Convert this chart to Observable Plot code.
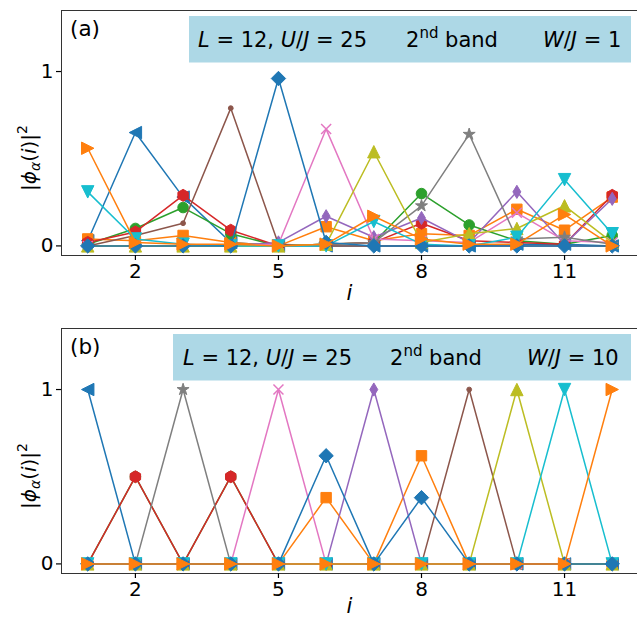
<!DOCTYPE html>
<html>
<head>
<meta charset="utf-8">
<script src="https://cdn.jsdelivr.net/npm/d3@7"></script>
<script src="https://cdn.jsdelivr.net/npm/@observablehq/plot@0.6"></script>
<style>
  body { margin: 0; background: #fff; }
  #chart { width: 637px; }
  #chart svg { display: block; }
</style>
</head>
<body>
<div id="chart"></div>
<script>
// ---------------- data ----------------
const sites = [1, 2, 3, 4, 5, 6, 7, 8, 9, 10, 11, 12];
const xTicks = [2, 5, 8, 11];
const yTicks = [0, 1];
const panelLabels = ["(a)", "(b)"];
const systemSize = 12;
const interaction = 25;
const bandLabel = ["2", "nd", " band"];
const disorder = [1, 10];

// |phi_alpha(i)|^2 for the 12 states of the 2nd band, W/J = 1
const densityW1 = [
  [0.03, 0.65, 0.28, 0.02, 0.00, 0.00, 0.00, 0.00, 0.00, 0.01, 0.01, 0.00],
  [0.04, 0.03, 0.06, 0.02, 0.00, 0.11, 0.03, 0.07, 0.06, 0.21, 0.09, 0.28],
  [0.01, 0.10, 0.22, 0.07, 0.00, 0.01, 0.02, 0.30, 0.12, 0.03, 0.01, 0.06],
  [0.02, 0.08, 0.29, 0.09, 0.00, 0.01, 0.02, 0.13, 0.03, 0.02, 0.01, 0.29],
  [0.00, 0.00, 0.00, 0.00, 0.02, 0.17, 0.05, 0.16, 0.02, 0.31, 0.01, 0.27],
  [0.00, 0.06, 0.13, 0.79, 0.01, 0.00, 0.00, 0.00, 0.00, 0.00, 0.00, 0.00],
  [0.00, 0.00, 0.00, 0.00, 0.01, 0.67, 0.04, 0.03, 0.02, 0.19, 0.03, 0.02],
  [0.00, 0.00, 0.00, 0.00, 0.00, 0.01, 0.02, 0.23, 0.64, 0.04, 0.05, 0.01],
  [0.00, 0.00, 0.00, 0.00, 0.00, 0.01, 0.54, 0.02, 0.07, 0.10, 0.23, 0.02],
  [0.31, 0.04, 0.01, 0.00, 0.00, 0.00, 0.14, 0.01, 0.00, 0.05, 0.38, 0.07],
  [0.00, 0.00, 0.00, 0.00, 0.96, 0.02, 0.00, 0.00, 0.00, 0.00, 0.00, 0.00],
  [0.56, 0.02, 0.01, 0.01, 0.00, 0.01, 0.17, 0.04, 0.01, 0.01, 0.18, 0.00]
];

// |phi_alpha(i)|^2 for the 12 states of the 2nd band, W/J = 10
const densityW10 = [
  [1.00, 0.00, 0.00, 0.00, 0.00, 0.00, 0.00, 0.00, 0.00, 0.00, 0.00, 0.00],
  [0.00, 0.00, 0.00, 0.00, 0.00, 0.38, 0.00, 0.62, 0.00, 0.00, 0.00, 0.00],
  [0.00, 0.50, 0.00, 0.50, 0.00, 0.00, 0.00, 0.00, 0.00, 0.00, 0.00, 0.00],
  [0.00, 0.50, 0.00, 0.50, 0.00, 0.00, 0.00, 0.00, 0.00, 0.00, 0.00, 0.00],
  [0.00, 0.00, 0.00, 0.00, 0.00, 0.00, 1.00, 0.00, 0.00, 0.00, 0.00, 0.00],
  [0.00, 0.00, 0.00, 0.00, 0.00, 0.00, 0.00, 0.00, 1.00, 0.00, 0.00, 0.00],
  [0.00, 0.00, 0.00, 0.00, 1.00, 0.00, 0.00, 0.00, 0.00, 0.00, 0.00, 0.00],
  [0.00, 0.00, 1.00, 0.00, 0.00, 0.00, 0.00, 0.00, 0.00, 0.00, 0.00, 0.00],
  [0.00, 0.00, 0.00, 0.00, 0.00, 0.00, 0.00, 0.00, 0.00, 1.00, 0.00, 0.00],
  [0.00, 0.00, 0.00, 0.00, 0.00, 0.00, 0.00, 0.00, 0.00, 0.00, 1.00, 0.00],
  [0.00, 0.00, 0.00, 0.00, 0.00, 0.62, 0.00, 0.38, 0.00, 0.00, 0.00, 0.00],
  [0.00, 0.00, 0.00, 0.00, 0.00, 0.00, 0.00, 0.00, 0.00, 0.00, 0.00, 1.00]
];

// ---------------- styles ----------------
const colors = ["#1f77b4", "#ff7f0e", "#2ca02c", "#d62728", "#9467bd", "#8c564b",
                "#e377c2", "#7f7f7f", "#bcbd22", "#17becf", "#1f77b4", "#ff7f0e"];
const markers = ["triLeft", "square", "circle", "hexagon", "thinDiamond", "point",
                 "x", "star", "triUp", "triDown", "diamond", "triRight"];
const markerSize = {triLeft: 6.2, triRight: 6.2, triUp: 6.2, triDown: 6.2, square: 5.2, circle: 5.3,
                    hexagon: 6, thinDiamond: 6.6, point: 2.4, x: 5, star: 6.3, diamond: 7.2};

function poly(pts) {
  return {draw(ctx, size) {
    const R = Math.sqrt(size / Math.PI);
    ctx.moveTo(pts[0][0] * R, pts[0][1] * R);
    for (let k = 1; k < pts.length; ++k) ctx.lineTo(pts[k][0] * R, pts[k][1] * R);
    ctx.closePath();
  }};
}
const symbols = {
  triLeft: poly([[-1, 0], [1, -1], [1, 1]]),
  triRight: poly([[1, 0], [-1, -1], [-1, 1]]),
  triUp: poly([[0, -1], [-1, 1], [1, 1]]),
  triDown: poly([[0, 1], [-1, -1], [1, -1]]),
  square: poly([[-1, -1], [1, -1], [1, 1], [-1, 1]]),
  diamond: poly([[0, -1], [1, 0], [0, 1], [-1, 0]]),
  thinDiamond: poly([[0, -1], [0.6, 0], [0, 1], [-0.6, 0]]),
  hexagon: poly(d3.range(6).map(k => [Math.sin(k * Math.PI / 3), -Math.cos(k * Math.PI / 3)])),
  star: poly(d3.range(10).map(k => {
    const a = k * Math.PI / 5, rr = k % 2 ? 0.382 : 1;
    return [rr * Math.sin(a), -rr * Math.cos(a)];
  })),
  circle: {draw(ctx, size) { const R = Math.sqrt(size / Math.PI); ctx.moveTo(R, 0); ctx.arc(0, 0, R, 0, 2 * Math.PI); }},
  point: {draw(ctx, size) { const R = Math.sqrt(size / Math.PI); ctx.moveTo(R, 0); ctx.arc(0, 0, R, 0, 2 * Math.PI); }},
  x: {draw(ctx, size) {
    const R = Math.sqrt(size / Math.PI);
    ctx.moveTo(-R, -R); ctx.lineTo(R, R); ctx.moveTo(-R, R); ctx.lineTo(R, -R);
  }}
};

const FONT = "DejaVu Sans";

function panel(data, idx, opts) {
  const rows = data.flatMap((vals, k) => vals.map((v, j) => ({k, i: sites[j], v})));
  const marks = [Plot.frame({stroke: "#333", strokeWidth: 1})];
  data.forEach((vals, k) => {
    const d = rows.filter(r => r.k === k);
    const m = markers[k];
    marks.push(Plot.line(d, {x: "i", y: "v", stroke: colors[k], strokeWidth: 1.5}));
    marks.push(Plot.dot(d, {
      x: "i", y: "v", symbol: symbols[m], r: markerSize[m],
      fill: m === "x" ? "none" : colors[k], stroke: colors[k],
      strokeWidth: m === "x" ? 1.5 : 1
    }));
  });
  marks.push(Plot.axisX({ticks: xTicks, tickFormat: d => String(d), tickSize: 5, tickPadding: 3,
                         label: null, fontSize: 20, strokeWidth: 1.2}));
  marks.push(Plot.axisY({ticks: yTicks, tickFormat: d => String(d), tickSize: 5, tickPadding: 3,
                         label: null, fontSize: 20, strokeWidth: 1.2}));
  const svg = Plot.plot({
    width: 637, height: 310,
    marginLeft: 61, marginRight: 0, marginTop: opts.top, marginBottom: 310 - opts.top - 245,
    x: {domain: [0.45, 12.53]},
    y: {domain: [-0.055, 1.35]},
    style: {fontFamily: FONT, fontSize: "20px", color: "black", background: "white", overflow: "visible"},
    marks
  });
  const s = d3.select(svg);
  const top = opts.top;
  // annotation box
  s.append("rect").attr("x", opts.boxX).attr("y", top + 6).attr("width", 631 - opts.boxX)
    .attr("height", 46.5).attr("fill", "#add8e6");
  const g = s.append("g").attr("font-family", FONT).attr("font-size", 21)
    .attr("fill", "black").attr("text-anchor", "start");
  const t1 = g.append("text").attr("x", opts.t1).attr("y", top + 37);
  t1.append("tspan").attr("font-style", "italic").text("L");
  t1.append("tspan").text(" = " + systemSize + ", ");
  t1.append("tspan").attr("font-style", "italic").text("U");
  t1.append("tspan").text("/");
  t1.append("tspan").attr("font-style", "italic").text("J");
  t1.append("tspan").text(" = " + interaction);
  const t2 = g.append("text").attr("x", opts.t2).attr("y", top + 37);
  t2.append("tspan").text(bandLabel[0]);
  t2.append("tspan").attr("font-size", 15).attr("dy", -9).text(bandLabel[1]);
  t2.append("tspan").attr("dy", 9).text(bandLabel[2]);
  const t3 = g.append("text").attr("x", opts.t3).attr("y", top + 37);
  t3.append("tspan").attr("font-style", "italic").text("W");
  t3.append("tspan").text("/");
  t3.append("tspan").attr("font-style", "italic").text("J");
  t3.append("tspan").text(" = " + disorder[idx]);
  // panel label
  g.append("text").attr("x", 70).attr("y", top + 26).attr("font-size", 21.5).text(panelLabels[idx]);
  // x label
  g.append("text").attr("x", 349.5).attr("y", opts.xlab).attr("text-anchor", "middle")
    .attr("font-size", 21).attr("font-style", "italic").text("i");
  // y label
  const yl = g.append("text").attr("transform", `translate(36,${top + 148}) rotate(-90)`)
    .attr("font-size", 20).attr("text-anchor", "middle");
  yl.append("tspan").text("|");
  yl.append("tspan").attr("font-style", "italic").text("ϕ");
  yl.append("tspan").attr("font-style", "italic").attr("font-size", 14).attr("dy", 4).text("α");
  yl.append("tspan").attr("dy", -4).text("(");
  yl.append("tspan").attr("font-style", "italic").text("i");
  yl.append("tspan").text(")|");
  yl.append("tspan").attr("font-size", 14).attr("dy", -9).text("2");
  return svg;
}

const root = document.getElementById("chart");
root.appendChild(panel(densityW1, 0, {top: 10, boxX: 189, t1: 198, t2: 406, t3: 543, xlab: 300}));
root.appendChild(panel(densityW10, 1, {top: 18, boxX: 173, t1: 183, t2: 390, t3: 527, xlab: 303}));
</script>
</body>
</html>
